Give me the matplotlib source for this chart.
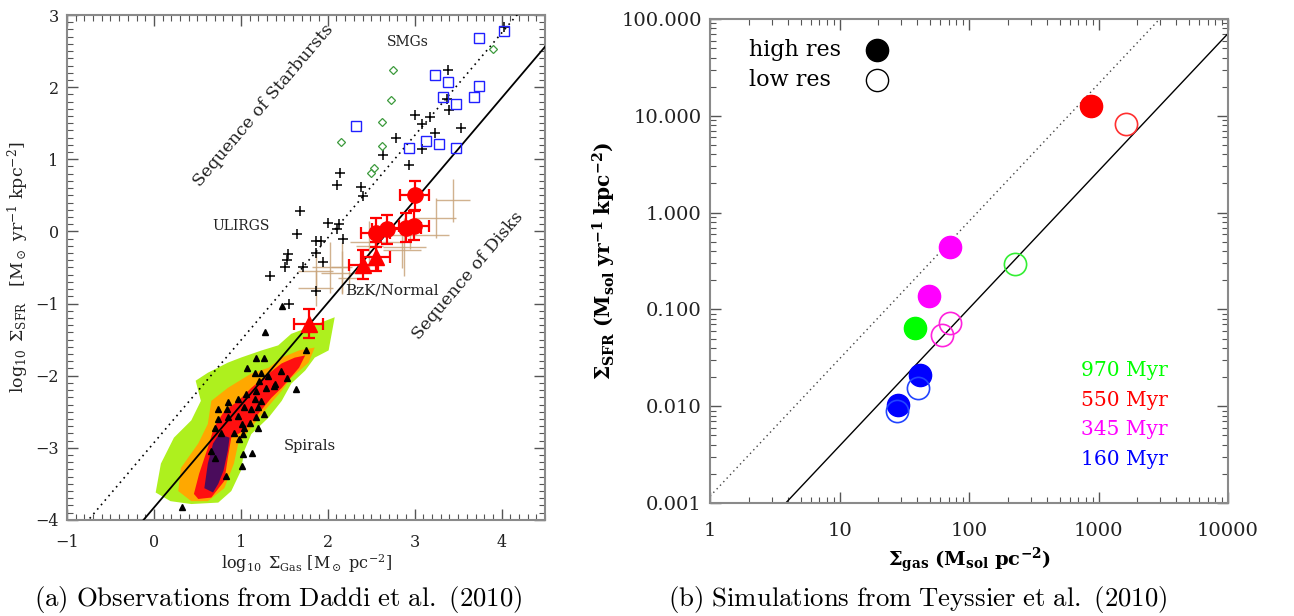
import numpy as np
import matplotlib
matplotlib.use('Agg')
import matplotlib.pyplot as plt
from matplotlib.ticker import MultipleLocator, FixedLocator, FixedFormatter, NullFormatter

plt.rcParams['font.family'] = 'DejaVu Serif'
plt.rcParams['mathtext.fontset'] = 'dejavuserif'

# %% Panel (a) data: Daddi et al. (2010), log10 values
disk_slope, disk_icpt = 1.42, -3.83
sb_icpt = -2.93

smg_x = [4.03, 3.74, 3.23, 3.38, 3.74, 3.33, 3.68, 3.48, 2.33, 3.13, 3.28, 2.93, 3.48]
smg_y = [2.78, 2.68, 2.17, 2.07, 2.01, 1.86, 1.86, 1.76, 1.46, 1.26, 1.21, 1.15, 1.15]

dia_x = [3.90, 2.75, 2.73, 2.62, 2.15, 2.62, 2.53, 2.50]
dia_y = [2.53, 2.24, 1.82, 1.51, 1.24, 1.18, 0.88, 0.81]

ulirg_x = [4.03, 3.38, 3.37, 3.39, 3.00, 3.18, 3.09, 3.53, 2.79, 3.23, 3.09, 2.63, 2.94,
           2.14, 2.11, 2.38, 2.41, 1.68, 2.00, 2.13, 2.11, 1.65, 2.18, 1.87, 1.92, 1.87,
           1.94, 1.72, 1.87, 1.54, 1.53, 1.51, 1.33, 1.55]
ulirg_y = [2.83, 2.24, 1.83, 1.69, 1.61, 1.58, 1.49, 1.44, 1.29, 1.36, 1.14, 1.06, 0.92,
           0.81, 0.65, 0.62, 0.49, 0.28, 0.11, 0.10, 0.03, -0.04, -0.10, -0.13, -0.13, -0.30,
           -0.42, -0.49, -0.82, -0.31, -0.39, -0.50, -0.62, -1.00]

# BzK / normal galaxies (tan crosses): centre, x error, y error
bzk_x = [3.44, 3.24, 2.88, 2.56, 2.85, 2.48, 2.03, 2.16, 2.25, 1.86, 2.16, 1.86, 2.95]
bzk_y = [0.43, 0.19, -0.22, -0.15, -0.26, -0.20, -0.50, -0.57, -0.64, -0.79, -0.50, -0.55, -0.05]
bzk_xe = [0.20, 0.24, 0.25, 0.30, 0.22, 0.15, 0.21, 0.24, 0.13, 0.20, 0.12, 0.20, 0.45]
bzk_ye = [0.30, 0.28, 0.40, 0.20, 0.25, 0.35, 0.35, 0.30, 0.15, 0.25, 0.35, 0.28, 0.20]

circ_x = [3.00, 2.55, 2.68, 2.90, 2.99]
circ_y = [0.50, -0.02, 0.03, 0.05, 0.08]
tri_x = [2.41, 2.55, 1.78]
tri_y = [-0.46, -0.35, -1.28]
red_xe = 0.17
red_ye = 0.20

spiral_x = [1.47, 1.28, 1.75, 1.18, 1.27, 1.07, 1.16, 1.23, 1.31, 1.46, 1.53, 1.63, 1.21,
            1.29, 1.38, 1.39, 1.18, 1.06, 0.97, 0.85, 1.16, 1.23, 1.04, 1.12, 1.20, 0.74,
            0.84, 1.27, 1.18, 0.97, 0.85, 0.74, 1.10, 1.01, 1.20, 1.04, 0.70, 0.92, 1.03,
            0.77, 0.98, 0.66, 1.03, 1.13, 1.01, 0.83, 0.32, 0.70]
spiral_y = [-1.03, -1.39, -1.65, -1.76, -1.76, -1.90, -1.96, -1.97, -2.00, -1.94, -2.03, -2.18,
            -2.07, -2.17, -2.14, -2.11, -2.21, -2.25, -2.32, -2.36, -2.32, -2.35, -2.44, -2.46,
            -2.44, -2.46, -2.46, -2.53, -2.58, -2.56, -2.58, -2.60, -2.65, -2.67, -2.72, -2.72,
            -2.72, -2.79, -2.81, -2.79, -2.88, -3.04, -3.08, -3.07, -3.25, -3.39, -3.82, -3.14]

# THINGS pixel density levels (outlines)
lvl1_x = [0.02, 0.08, 0.23, 0.43, 0.54, 0.48, 0.62, 0.85, 1.00, 1.24, 1.43, 1.58, 1.78, 2.08,
          2.01, 1.85, 1.74, 1.58, 1.47, 1.32, 1.12, 1.04, 1.00, 0.89, 0.74, 0.43, 0.19]
lvl1_y = [-3.62, -3.22, -2.86, -2.62, -2.35, -2.07, -1.96, -1.82, -1.75, -1.65, -1.58, -1.42,
          -1.33, -1.19, -1.65, -1.75, -1.93, -2.11, -2.35, -2.58, -2.81, -3.04, -3.32, -3.60,
          -3.76, -3.78, -3.74]
lvl2_x = [0.28, 0.31, 0.51, 0.62, 0.66, 0.85, 1.12, 1.32, 1.47, 1.67, 1.85, 1.78, 1.58, 1.47,
          1.27, 1.12, 0.97, 0.92, 0.81, 0.62, 0.43]
lvl2_y = [-3.60, -3.28, -2.94, -2.67, -2.35, -2.17, -1.97, -1.89, -1.75, -1.65, -1.61, -1.82,
          -2.03, -2.21, -2.49, -2.72, -2.94, -3.22, -3.56, -3.74, -3.74]
lvl3_x = [0.46, 0.52, 0.62, 0.69, 0.81, 0.97, 1.12, 1.32, 1.47, 1.62, 1.74, 1.67, 1.47, 1.35,
          1.20, 1.04, 0.89, 0.85, 0.81, 0.66, 0.51]
lvl3_y = [-3.64, -3.36, -3.00, -2.72, -2.49, -2.35, -2.17, -1.97, -1.83, -1.75, -1.72, -1.89,
          -2.17, -2.31, -2.53, -2.76, -2.86, -3.14, -3.46, -3.69, -3.71]
lvl4_x = [0.58, 0.62, 0.68, 0.75, 0.87, 0.85, 0.80, 0.74, 0.68]
lvl4_y = [-3.56, -3.22, -2.94, -2.81, -2.86, -3.04, -3.32, -3.50, -3.62]

# %% Panel (b) data: Teyssier et al. (2010)
hi_gas = [875, 71, 49, 38, 42, 28.3]
hi_sfr = [12.6, 0.44, 0.138, 0.064, 0.021, 0.0102]
hi_col = ['#ff0000', '#ff00ff', '#ff00ff', '#00ff00', '#0000ff', '#0000ff']
lo_gas = [1630, 226, 71, 62, 40.5, 27.9]
lo_sfr = [8.2, 0.295, 0.072, 0.054, 0.0155, 0.0090]
lo_col = ['#ff3030', '#33ee33', '#ff22dd', '#ff22dd', '#2244ff', '#2244ff']
age_labels = ['970 Myr', '550 Myr', '345 Myr', '160 Myr']
age_cols = ['#00ff00', '#ff0000', '#ff00ff', '#0000ff']
res_labels = ['high res', 'low res']

frame = '#8a8a8a'

fig = plt.figure(figsize=(12.94, 6.16), dpi=100)
ax1 = fig.add_axes([0.0518, 0.156, 0.3694, 0.8196])
ax2 = fig.add_axes([0.5487, 0.1834, 0.4003, 0.7857])

# %% Panel (a)
ax1.fill(lvl1_x, lvl1_y, color='#aef01e', lw=0, zorder=1)
ax1.fill(lvl2_x, lvl2_y, color='#ffa800', lw=0, zorder=1)
ax1.fill(lvl3_x, lvl3_y, color='#ff1010', lw=0, zorder=1)
ax1.fill(lvl4_x, lvl4_y, color='#4a0c5c', lw=0, zorder=1)

xl = np.array([-1, 4.5])
ax1.plot(xl, disk_slope * xl + disk_icpt, color='k', lw=1.3, zorder=3)
ax1.plot(xl, disk_slope * xl + sb_icpt, color='k', lw=1.2, ls=(0, (1, 2.5)), zorder=3)

ax1.plot(spiral_x, spiral_y, ls='', marker='^', color='k', ms=5, zorder=4)
ax1.errorbar(bzk_x, bzk_y, xerr=bzk_xe, yerr=bzk_ye, fmt='none', ecolor='#c9a57c',
             elinewidth=1.0, alpha=0.85, zorder=2)
ax1.plot(ulirg_x, ulirg_y, ls='', marker='+', color='k', ms=7, mew=1.1, zorder=4)
ax1.plot(smg_x, smg_y, ls='', marker='s', mfc='none', mec='#2020ff', ms=6.5, mew=1, zorder=4)
ax1.plot(dia_x, dia_y, ls='', marker='D', mfc='none', mec='#3c9a3c', ms=4, mew=0.9, zorder=4)
ax1.errorbar(circ_x, circ_y, xerr=red_xe, yerr=red_ye, fmt='o', color='#ff0000', ms=11,
             elinewidth=1.6, capsize=4, capthick=1.6, zorder=5)
ax1.errorbar(tri_x, tri_y, xerr=red_xe, yerr=red_ye, fmt='^', color='#ff0000', ms=11,
             elinewidth=1.6, capsize=4, capthick=1.6, zorder=5)

ang = np.degrees(np.arctan(disk_slope))
ax1.text(1.26, 1.74, 'Sequence of Starbursts', rotation=ang, transform_rotates_text=True,
         rotation_mode='anchor', ha='center', va='center', fontsize=12.5, color='#222222')
ax1.text(3.61, -0.61, 'Sequence of Disks', rotation=ang, transform_rotates_text=True,
         rotation_mode='anchor', ha='center', va='center', fontsize=12.5, color='#222222')
ax1.text(2.92, 2.62, 'SMGs', ha='center', va='center', fontsize=10, color='#222222')
ax1.text(1.00, 0.08, 'ULIRGS', ha='center', va='center', fontsize=10, color='#222222')
ax1.text(2.74, -0.82, 'BzK/Normal', ha='center', va='center', fontsize=11, color='#222222')
ax1.text(1.79, -2.97, 'Spirals', ha='center', va='center', fontsize=10.5, color='#222222')

ax1.set_xlim(-1, 4.5)
ax1.set_ylim(-4, 3)
ax1.xaxis.set_major_locator(MultipleLocator(1))
ax1.xaxis.set_minor_locator(MultipleLocator(0.1))
ax1.yaxis.set_major_locator(MultipleLocator(1))
ax1.yaxis.set_minor_locator(MultipleLocator(0.1))
ax1.set_xlabel(r'$\log_{10}\ \Sigma_{\rm Gas}\ [{\rm M}_\odot\ {\rm pc}^{-2}]$', fontsize=11.5,
               labelpad=1, color='#222222')
ax1.set_ylabel(r'$\log_{10}\ \Sigma_{\rm SFR}\ \ \ [{\rm M}_\odot\ {\rm yr}^{-1}\ {\rm kpc}^{-2}]$',
               fontsize=12.5, labelpad=3, color='#222222')

# %% Panel (b)
gl = np.array([1, 10000])
ax2.plot(gl, 10 ** (disk_slope * np.log10(gl) + disk_icpt), color='k', lw=1.0, zorder=2)
ax2.plot(gl, 10 ** (disk_slope * np.log10(gl) + sb_icpt), color='#444444', lw=1.0,
         ls=(0, (1, 2.5)), zorder=2)
for gx, sy, c in zip(hi_gas, hi_sfr, hi_col):
    ax2.plot(gx, sy, ls='', marker='o', color=c, ms=16, zorder=3)
for gx, sy, c in zip(lo_gas, lo_sfr, lo_col):
    ax2.plot(gx, sy, ls='', marker='o', mfc='none', mec=c, ms=16, mew=1.2, zorder=4)

ax2.set_xscale('log')
ax2.set_yscale('log')
ax2.set_xlim(1, 10000)
ax2.set_ylim(0.001, 100)
ax2.yaxis.set_major_locator(FixedLocator([0.001, 0.01, 0.1, 1, 10, 100]))
ax2.yaxis.set_major_formatter(FixedFormatter(['0.001', '0.010', '0.100', '1.000', '10.000',
                                              '100.000']))
ax2.yaxis.set_minor_formatter(NullFormatter())
ax2.xaxis.set_major_locator(FixedLocator([1, 10, 100, 1000, 10000]))
ax2.xaxis.set_major_formatter(FixedFormatter(['1', '10', '100', '1000', '10000']))
ax2.xaxis.set_minor_formatter(NullFormatter())

# key for resolution (filled / open)
ax2.text(0.075, 0.936, res_labels[0], fontsize=16, ha='left', va='center', transform=ax2.transAxes)
ax2.text(0.075, 0.874, res_labels[1], fontsize=16, ha='left', va='center', transform=ax2.transAxes)
ax2.plot([0.322], [0.936], ls='', marker='o', color='k', ms=16, transform=ax2.transAxes)
ax2.plot([0.322], [0.874], ls='', marker='o', mfc='none', mec='k', ms=16, mew=1.0,
         transform=ax2.transAxes)
for i, (lab, c) in enumerate(zip(age_labels, age_cols)):
    ax2.text(0.80, 0.273 - i * 0.061, lab, color=c, fontsize=14.5, ha='center', va='center',
             transform=ax2.transAxes)

ax2.set_xlabel(r'$\mathbf{\Sigma_{gas}}\ \mathbf{(M_{sol}\ pc^{-2})}$', fontsize=14, labelpad=4)
ax2.set_ylabel(r'$\mathbf{\Sigma_{SFR}\ (M_{sol}\ yr^{-1}\ kpc^{-2})}$', fontsize=14.5, labelpad=2)

for ax, fs, pd in [(ax1, 11.5, 10), (ax2, 14, 14)]:
    for s in ax.spines.values():
        s.set_color(frame)
        s.set_linewidth(1.5)
    ax.tick_params(which='both', direction='in', top=True, right=True, color='#555555',
                   labelsize=fs, labelcolor='#222222')
    ax.tick_params(which='major', length=8, width=1.0, pad=6)
    ax.tick_params(axis='x', which='major', pad=pd)
    ax.tick_params(which='minor', length=4, width=0.8)

fig.text(0.215, 0.026, r'$\mathrm{(a)\ Observations\ from\ Daddi\ et\ al.\ (2010)}$',
         ha='center', va='center', fontsize=19.3, math_fontfamily='cm')
fig.text(0.709, 0.026, r'$\mathrm{(b)\ Simulations\ from\ Teyssier\ et\ al.\ (2010)}$',
         ha='center', va='center', fontsize=19.3, math_fontfamily='cm')

fig.savefig('out.png', dpi=100)
